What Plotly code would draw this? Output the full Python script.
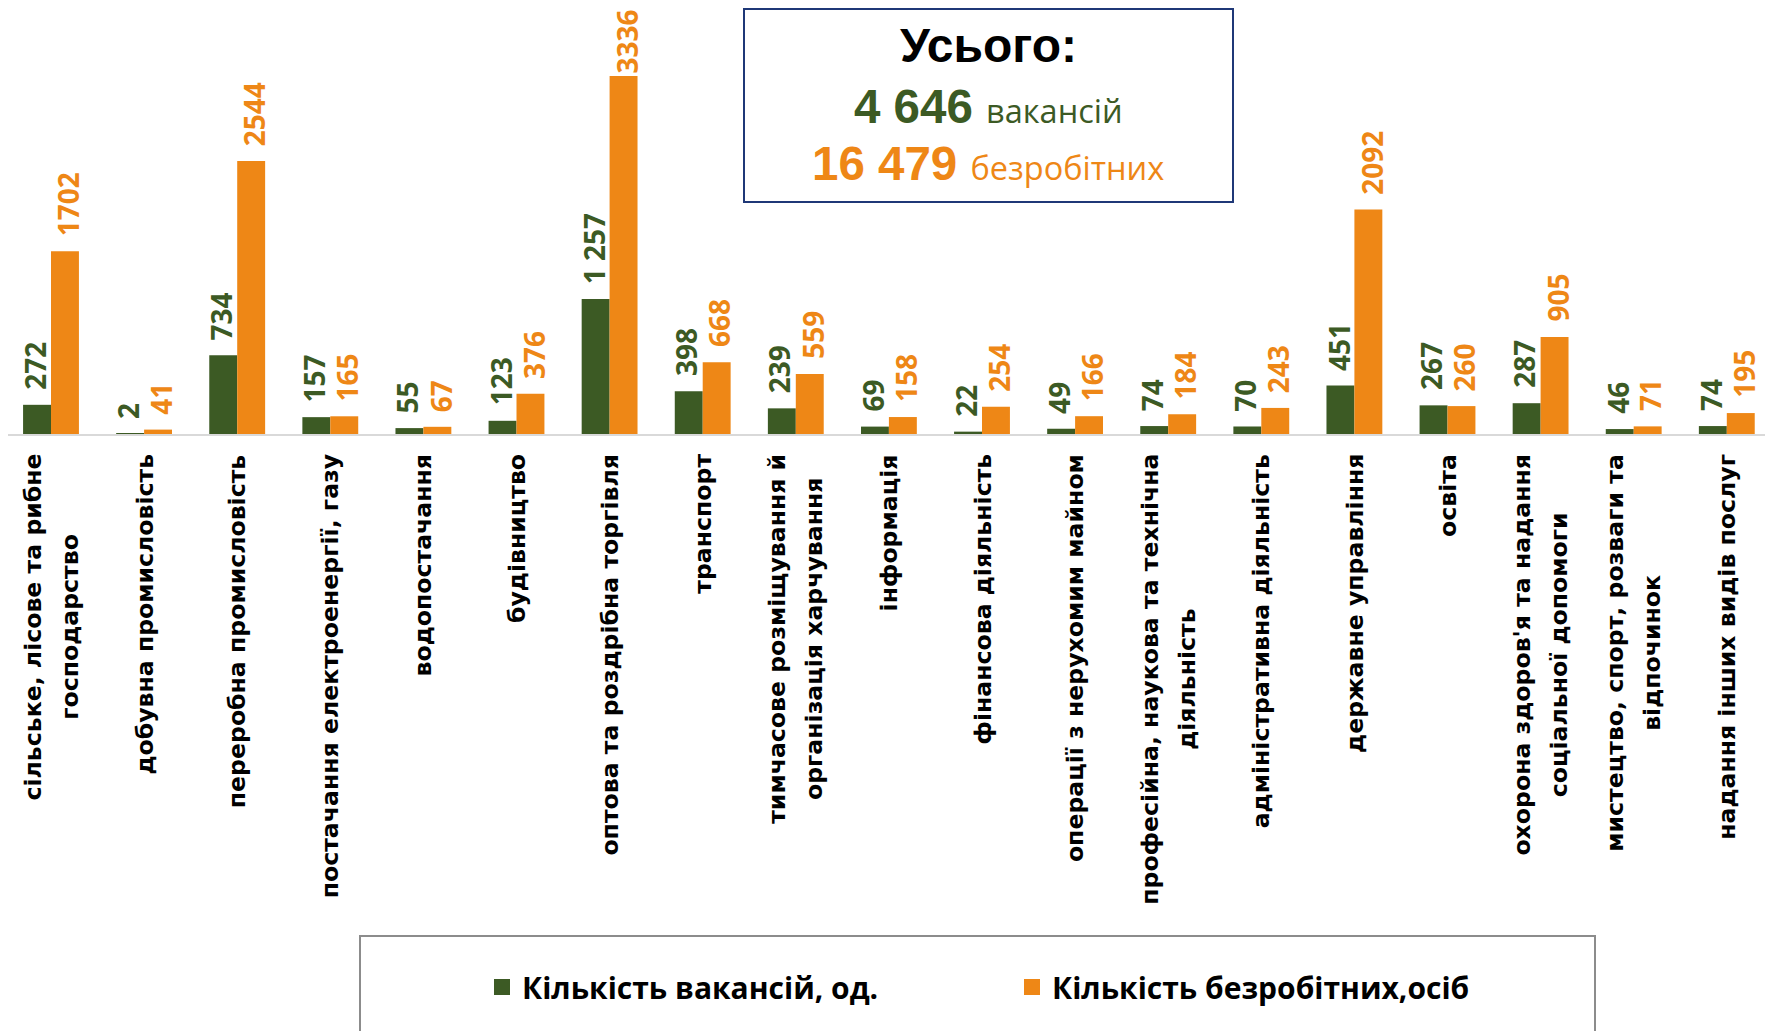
import plotly.graph_objects as go

categories = [
    "сільське, лісове та рибне<br>господарство",
    "добувна промисловість",
    "переробна промисловість",
    "постачання електроенергії, газу",
    "водопостачання",
    "будівництво",
    "оптова та роздрібна торгівля",
    "транспорт",
    "тимчасове розміщування й<br>організація харчування",
    "інформація",
    "фінансова діяльність",
    "операції з нерухомим майном",
    "професійна, наукова та технічна<br>діяльність",
    "адміністративна діяльність",
    "державне управління",
    "освіта",
    "охорона здоров'я та надання<br>соціальної допомоги",
    "мистецтво, спорт, розваги та<br>відпочинок",
    "надання інших видів послуг",
]
vacancies = [272, 2, 734, 157, 55, 123, 1257, 398, 239, 69, 22, 49, 74, 70, 451, 267, 287, 46, 74]
unemployed = [1702, 41, 2544, 165, 67, 376, 3336, 668, 559, 158, 254, 166, 184, 243, 2092, 260, 905, 71, 195]
series_names = ["Кількість вакансій, од.", "Кількість безробітних,осіб"]
total_vacancies = "4 646"
total_unemployed = "16 479"

GREEN = "#3C5A24"
ORANGE = "#EE8716"

# the page body has an 8px margin; figure pixel = screen pixel - 8
OFF = 8
W, H = 1765, 1023
ML, MR, MT, MB = 0, 0, 0, 597
PW, PH = W - ML - MR, H - MT - MB


def px_x(p):
    return (p - OFF - ML) / PW


def px_y(p):
    return (H - MB - (p - OFF)) / PH


def fmt(v):
    return f"{v:,}".replace(",", " ")


# category pitch and first category centre on screen
PITCH = 93.1
FIRST = 51.0
x_lo = (OFF + ML - FIRST) / PITCH
x_hi = x_lo + PW / PITCH
BARGAP = 0.4
half_bar = PITCH * (1 - BARGAP) / 4
Y_MAX = 3336 * PH / 358

LAB_SIZE = 28
GAP = 14


def label_shift(v, txt):
    # keep the label inside the figure (like the chart app does), otherwise a fixed gap
    room_above = PH * (1 - v / Y_MAX)
    est_len = LAB_SIZE * 0.58 * len(txt)
    return max(1, min(GAP, room_above - est_len - 3))


fig = go.Figure()
fig.add_trace(go.Bar(x=categories, y=vacancies, name=series_names[0],
                     marker=dict(color=GREEN, line=dict(width=0)), showlegend=False))
fig.add_trace(go.Bar(x=categories, y=unemployed, name=series_names[1],
                     marker=dict(color=ORANGE, line=dict(width=0)), showlegend=False))
# legend entries with larger square swatches
for nm, col in zip(series_names, [GREEN, ORANGE]):
    fig.add_trace(go.Scatter(x=[None], y=[None], mode="markers", name=nm,
                             marker=dict(symbol="square", size=17, color=col)))

annotations = []
# value labels
lab_font = dict(family="Open Sans", size=LAB_SIZE, weight="bold")
for c, v in zip(categories, vacancies):
    t = fmt(v)
    annotations.append(dict(x=c, y=v, xref="x", yref="y", text=t, textangle=-90,
                            showarrow=False, xanchor="center", yanchor="bottom", borderpad=0,
                            xshift=-half_bar - 2, yshift=label_shift(v, t),
                            font=dict(color=GREEN, **lab_font)))
for c, v in zip(categories, unemployed):
    t = str(v)
    annotations.append(dict(x=c, y=v, xref="x", yref="y", text=t, textangle=-90,
                            showarrow=False, xanchor="center", yanchor="bottom", borderpad=0,
                            xshift=half_bar + 3, yshift=label_shift(v, t),
                            font=dict(color=ORANGE, **lab_font)))

# category labels
for c in categories:
    lines = c.split("<br>")
    txt = "<br>".join(f"<span style='font-size:23.6px'>{ln}</span>" for ln in lines)
    annotations.append(dict(
        x=c, xref="x", y=px_y(452), yref="paper",
        text=txt, textangle=-90, showarrow=False,
        xanchor="center", yanchor="top", align="center",
        font=dict(family="DejaVu Sans", size=29, color="black", weight="bold"),
    ))

cx = px_x(988.5)
annotations.append(dict(
    x=cx, y=px_y(45), xref="paper", yref="paper", showarrow=False,
    text="<b>Усього:</b>", xanchor="center", yanchor="middle",
    font=dict(family="Liberation Sans", size=48, color="black"),
))
annotations.append(dict(
    x=cx, y=px_y(106), xref="paper", yref="paper", showarrow=False,
    text=f"<b>{total_vacancies}</b> <span style='font-family:Open Sans;font-size:32.5px'>вакансій</span>",
    xanchor="center", yanchor="middle",
    font=dict(family="Liberation Sans", size=47.5, color=GREEN),
))
annotations.append(dict(
    x=cx, y=px_y(164), xref="paper", yref="paper", showarrow=False,
    text=f"<b>{total_unemployed}</b> <span style='font-family:Open Sans;font-size:32.5px'>безробітних</span>",
    xanchor="center", yanchor="middle",
    font=dict(family="Liberation Sans", size=47.5, color=ORANGE),
))

shapes = [
    dict(type="rect", xref="paper", yref="paper",
         x0=px_x(744), x1=px_x(1233), y0=px_y(202), y1=px_y(9),
         line=dict(color="#1F3877", width=2), fillcolor="rgba(0,0,0,0)", layer="above"),
    dict(type="rect", xref="paper", yref="paper",
         x0=px_x(360), x1=px_x(1595), y0=px_y(1060), y1=px_y(936),
         line=dict(color="#8C8C8C", width=2), fillcolor="rgba(0,0,0,0)", layer="above"),
]

fig.update_layout(
    width=W, height=H,
    margin=dict(l=ML, r=MR, t=MT, b=MB),
    paper_bgcolor="white", plot_bgcolor="white",
    barmode="group", bargap=BARGAP, bargroupgap=0,
    showlegend=True,
    legend=dict(
        orientation="h", x=px_x(482), y=px_y(987), xanchor="left", yanchor="middle",
        font=dict(family="Open Sans", size=30, color="black", weight="bold"),
        entrywidth=485, entrywidthmode="pixels",
        bgcolor="rgba(0,0,0,0)", itemclick=False, itemdoubleclick=False,
    ),
    xaxis=dict(type="category", range=[x_lo, x_hi], showticklabels=False, showgrid=False,
               zeroline=False, showline=True, linecolor="#D9D9D9", linewidth=2, ticks=""),
    yaxis=dict(range=[0, Y_MAX], visible=False, showgrid=False, zeroline=False),
    annotations=annotations,
    shapes=shapes,
)

fig.write_html("out.html")
